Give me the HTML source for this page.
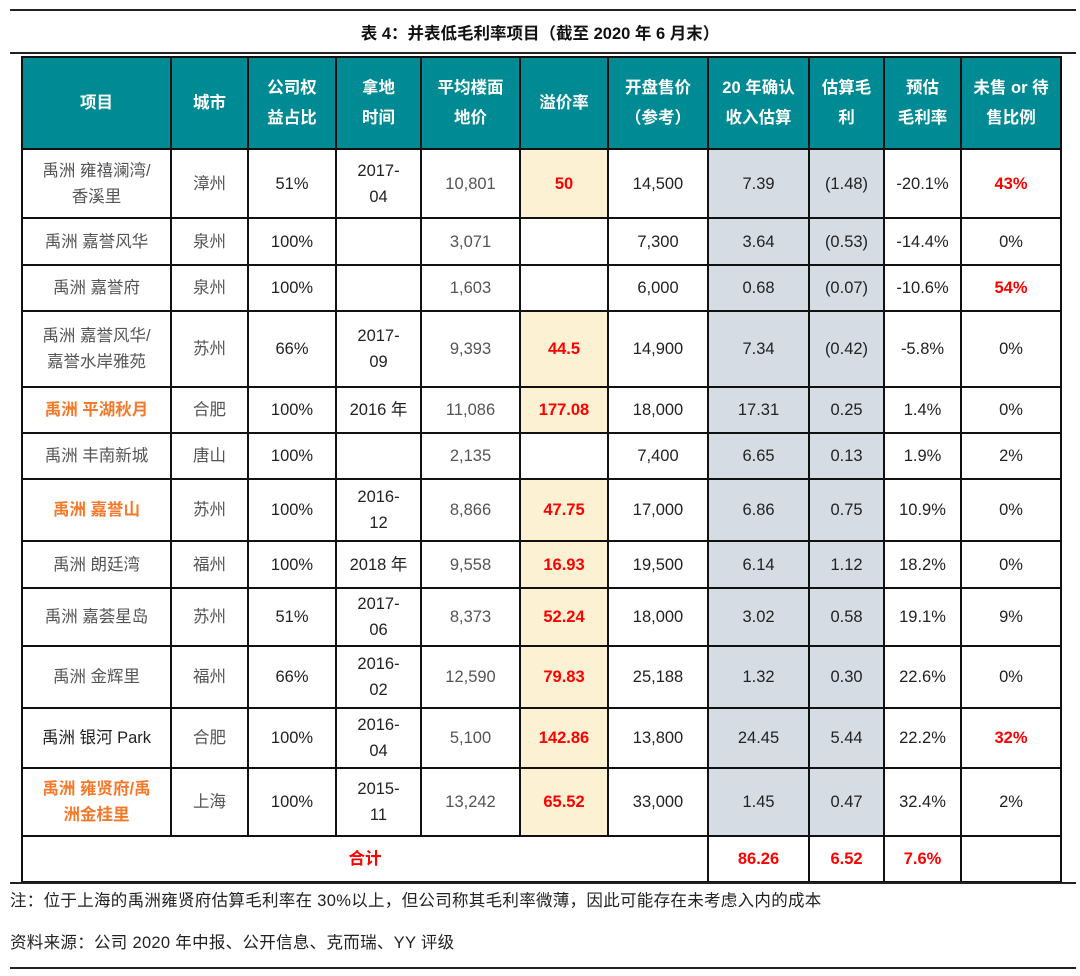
<!DOCTYPE html>
<html><head><meta charset="utf-8"><style>
body{margin:0;width:1080px;height:976px;background:#fff;position:relative;font-family:"Liberation Sans","Noto Sans CJK SC",sans-serif;overflow:hidden}
.hl{position:absolute;left:10px;width:1066px;height:2px;background:#222}
.title{position:absolute;top:20px;left:0;width:1080px;text-align:center;font-weight:bold;font-size:16.5px;color:#111}
table{position:absolute;left:21px;top:56px;border-collapse:collapse;table-layout:fixed}
td{border:2px solid #111;text-align:center;font-size:16.5px;color:#222;padding:0;line-height:26px}
th{border:2px solid #111;background:#008a94;color:#fff;font-size:16.5px;font-weight:bold;line-height:30px;padding:0}
.g{color:#555}
.gr{background:#d6dce4}
.y{background:#fdf1d4}
.r{color:#f00;font-weight:bold}
.o{color:#f5792a;font-weight:bold}
.note{position:absolute;left:10px;font-size:16.5px;color:#222;letter-spacing:0.3px}
</style></head><body>
<div class="hl" style="top:9px"></div>
<div class="title">表 4：并表低毛利率项目（截至 2020 年 6 月末）</div>
<div class="hl" style="top:52px"></div>
<table>
<colgroup><col style="width:149px"><col style="width:77px"><col style="width:88px"><col style="width:85px"><col style="width:99px"><col style="width:88px"><col style="width:100px"><col style="width:101px"><col style="width:75px"><col style="width:77px"><col style="width:100px"></colgroup>
<tr style="height:92px"><th>项目</th><th>城市</th><th>公司权<br>益占比</th><th>拿地<br>时间</th><th>平均楼面<br>地价</th><th>溢价率</th><th>开盘售价<br>（参考）</th><th>20 年确认<br>收入估算</th><th>估算毛<br>利</th><th>预估<br>毛利率</th><th>未售 or 待<br>售比例</th></tr>
<tr style="height:69px"><td class="g">禹洲 雍禧澜湾/<br>香溪里</td><td class="g">漳州</td><td>51%</td><td>2017-<br>04</td><td class="g">10,801</td><td class="y r">50</td><td>14,500</td><td class="gr">7.39</td><td class="gr">(1.48)</td><td>-20.1%</td><td class="r">43%</td></tr>
<tr style="height:47px"><td class="g">禹洲 嘉誉风华</td><td class="g">泉州</td><td>100%</td><td></td><td class="g">3,071</td><td></td><td>7,300</td><td class="gr">3.64</td><td class="gr">(0.53)</td><td>-14.4%</td><td>0%</td></tr>
<tr style="height:46px"><td class="g">禹洲 嘉誉府</td><td class="g">泉州</td><td>100%</td><td></td><td class="g">1,603</td><td></td><td>6,000</td><td class="gr">0.68</td><td class="gr">(0.07)</td><td>-10.6%</td><td class="r">54%</td></tr>
<tr style="height:76px"><td class="g">禹洲 嘉誉风华/<br>嘉誉水岸雅苑</td><td class="g">苏州</td><td>66%</td><td>2017-<br>09</td><td class="g">9,393</td><td class="y r">44.5</td><td>14,900</td><td class="gr">7.34</td><td class="gr">(0.42)</td><td>-5.8%</td><td>0%</td></tr>
<tr style="height:46px"><td class="o">禹洲 平湖秋月</td><td class="g">合肥</td><td>100%</td><td>2016 年</td><td class="g">11,086</td><td class="y r">177.08</td><td>18,000</td><td class="gr">17.31</td><td class="gr">0.25</td><td>1.4%</td><td>0%</td></tr>
<tr style="height:46px"><td class="g">禹洲 丰南新城</td><td class="g">唐山</td><td>100%</td><td></td><td class="g">2,135</td><td></td><td>7,400</td><td class="gr">6.65</td><td class="gr">0.13</td><td>1.9%</td><td>2%</td></tr>
<tr style="height:62px"><td class="o">禹洲 嘉誉山</td><td class="g">苏州</td><td>100%</td><td>2016-<br>12</td><td class="g">8,866</td><td class="y r">47.75</td><td>17,000</td><td class="gr">6.86</td><td class="gr">0.75</td><td>10.9%</td><td>0%</td></tr>
<tr style="height:47px"><td class="g">禹洲 朗廷湾</td><td class="g">福州</td><td>100%</td><td>2018 年</td><td class="g">9,558</td><td class="y r">16.93</td><td>19,500</td><td class="gr">6.14</td><td class="gr">1.12</td><td>18.2%</td><td>0%</td></tr>
<tr style="height:58px"><td class="g">禹洲 嘉荟星岛</td><td class="g">苏州</td><td>51%</td><td>2017-<br>06</td><td class="g">8,373</td><td class="y r">52.24</td><td>18,000</td><td class="gr">3.02</td><td class="gr">0.58</td><td>19.1%</td><td>9%</td></tr>
<tr style="height:62px"><td class="g">禹洲 金辉里</td><td class="g">福州</td><td>66%</td><td>2016-<br>02</td><td class="g">12,590</td><td class="y r">79.83</td><td>25,188</td><td class="gr">1.32</td><td class="gr">0.30</td><td>22.6%</td><td>0%</td></tr>
<tr style="height:60px"><td>禹洲 银河 Park</td><td class="g">合肥</td><td>100%</td><td>2016-<br>04</td><td class="g">5,100</td><td class="y r">142.86</td><td>13,800</td><td class="gr">24.45</td><td class="gr">5.44</td><td>22.2%</td><td class="r">32%</td></tr>
<tr style="height:68px"><td class="o">禹洲 雍贤府/禹<br>洲金桂里</td><td class="g">上海</td><td>100%</td><td>2015-<br>11</td><td class="g">13,242</td><td class="y r">65.52</td><td>33,000</td><td class="gr">1.45</td><td class="gr">0.47</td><td>32.4%</td><td>2%</td></tr>
<tr style="height:46px"><td colspan="7" class="r">合计</td><td class="r">86.26</td><td class="r">6.52</td><td class="r">7.6%</td><td></td></tr>
</table>
<div class="hl" style="top:882px"></div>
<div class="note" style="top:887px">注：位于上海的禹洲雍贤府估算毛利率在 30%以上，但公司称其毛利率微薄，因此可能存在未考虑入内的成本</div>
<div class="note" style="top:929px">资料来源：公司 2020 年中报、公开信息、克而瑞、YY 评级</div>
<div class="hl" style="top:967px"></div>
</body></html>
